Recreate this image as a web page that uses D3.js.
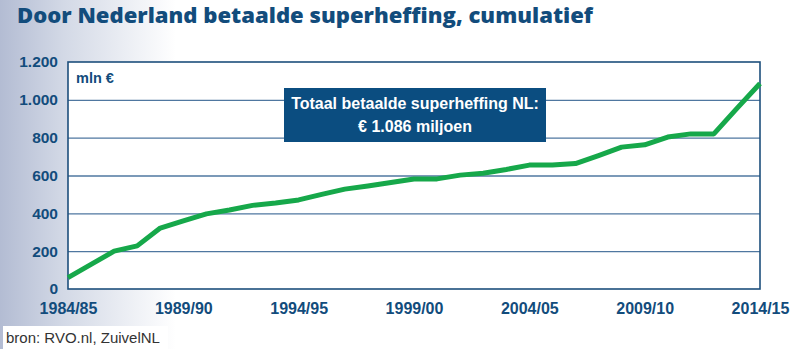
<!DOCTYPE html>
<meta charset="utf-8">
<script src="https://d3js.org/d3.v7.min.js"></script>
<style>
  body { margin: 0; }
  svg { display: block; font-family: "Liberation Sans", Arial, sans-serif; }
</style>
<div id="chart"></div>
<script>
// seizoenen 1984/85 t/m 2014/15
var seasons = ["1984/85","1985/86","1986/87","1987/88","1988/89","1989/90","1990/91","1991/92",
  "1992/93","1993/94","1994/95","1995/96","1996/97","1997/98","1998/99","1999/00","2000/01",
  "2001/02","2002/03","2003/04","2004/05","2005/06","2006/07","2007/08","2008/09","2009/10",
  "2010/11","2011/12","2012/13","2013/14","2014/15"];
// cumulatief betaalde superheffing, mln euro
var cumulative = [60,130,200,228,322,360,397,418,442,455,471,500,528,545,563,582,582,
  602,612,632,655,655,663,705,750,762,803,820,820,955,1086];
var xTickLabels = ["1984/85","1989/90","1994/95","1999/00","2004/05","2009/10","2014/15"];
var yTicks = [0,200,400,600,800,1000,1200];

var W = 800, H = 349;
var margin = {top: 62, right: 40, bottom: 60, left: 68},
    width = W - margin.left - margin.right,
    height = H - margin.top - margin.bottom;

var blue = "#124c7c";

var svg = d3.select("#chart").append("svg")
    .attr("width", W).attr("height", H);

// achtergrond met verloop van links
var grad = svg.append("defs").append("linearGradient")
    .attr("id", "bg").attr("x1", 0).attr("x2", 1).attr("y1", 0).attr("y2", 0);
grad.append("stop").attr("offset", 0).attr("stop-color", "#b3bcd3");
grad.append("stop").attr("offset", 0.08).attr("stop-color", "#d3d9e6");
grad.append("stop").attr("offset", 0.22).attr("stop-color", "#ffffff");
svg.append("rect").attr("width", W).attr("height", H).attr("fill", "url(#bg)");

svg.append("text")
    .attr("x", 17).attr("y", 23)
    .attr("fill", blue)
    .attr("textLength", 576).attr("lengthAdjust", "spacingAndGlyphs")
    .style("font-family", "'Open Sans', sans-serif")
    .style("font-weight", 800).style("font-size", "21px")
    .text("Door Nederland betaalde superheffing, cumulatief");

var g = svg.append("g")
    .attr("transform", "translate(" + margin.left + "," + margin.top + ")");

var x = d3.scaleLinear().domain([0, seasons.length - 1]).range([0, width]);
var y = d3.scaleLinear().domain([0, 1200]).range([height, 0]);

// plotvlak
g.append("rect").attr("width", width).attr("height", height).attr("fill", "#fff");

// rasterlijnen
g.append("g")
    .call(d3.axisLeft(y).tickValues(yTicks.slice(1, -1)).tickSize(-width).tickFormat(""))
    .call(function (s) { s.select(".domain").remove(); })
    .selectAll("line").attr("stroke", "#4f77a0").attr("stroke-width", 1.3);

var nl = d3.formatLocale({decimal: ",", thousands: ".", grouping: [3], currency: ["€", ""]});

var yAxis = g.append("g")
    .call(d3.axisLeft(y).tickValues(yTicks).tickSize(0).tickPadding(10).tickFormat(nl.format(",")));
yAxis.select(".domain").remove();
yAxis.selectAll("text")
    .attr("fill", blue).style("font-size", "15.5px").style("font-weight", "bold");

var xAxis = g.append("g")
    .attr("transform", "translate(0," + height + ")")
    .call(d3.axisBottom(x)
        .tickValues(xTickLabels.map(function (s) { return seasons.indexOf(s); }))
        .tickSize(0).tickPadding(14)
        .tickFormat(function (i) { return seasons[i]; }));
xAxis.select(".domain").remove();
xAxis.selectAll("text")
    .attr("fill", blue).style("font-size", "16px").style("font-weight", "bold");

g.append("rect").attr("width", width).attr("height", height)
    .attr("fill", "none").attr("stroke", "#1d4f7c").attr("stroke-width", 1.6);

// lijn
var line = d3.line()
    .x(function (d, i) { return x(i); })
    .y(function (d) { return y(d); });

g.append("path")
    .datum(cumulative)
    .attr("fill", "none")
    .attr("stroke", "#16a84a")
    .attr("stroke-width", 5)
    .attr("stroke-linejoin", "round")
    .attr("d", line);

g.append("text")
    .attr("x", 8).attr("y", 21)
    .attr("fill", blue).style("font-size", "14.5px").style("font-weight", "bold")
    .text("mln €");

// totaal-label
var total = cumulative[cumulative.length - 1];
var box = g.append("g").attr("transform", "translate(216,26)");
box.append("rect").attr("width", 262).attr("height", 54).attr("fill", "#0b4d80");
box.append("text")
    .attr("x", 131).attr("y", 21).attr("text-anchor", "middle")
    .attr("fill", "#fff").style("font-size", "16px").style("font-weight", "bold")
    .text("Totaal betaalde superheffing NL:");
box.append("text")
    .attr("x", 131).attr("y", 44).attr("text-anchor", "middle")
    .attr("fill", "#fff").style("font-size", "16px").style("font-weight", "bold")
    .text("€ " + nl.format(",")(total) + " miljoen");

// bron
svg.append("rect").attr("x", 3).attr("y", 326).attr("width", 165).attr("height", 23).attr("fill", "#fff");
svg.append("text")
    .attr("x", 6).attr("y", 343)
    .attr("fill", "#333").style("font-size", "15px")
    .text("bron: RVO.nl, ZuivelNL");
</script>
